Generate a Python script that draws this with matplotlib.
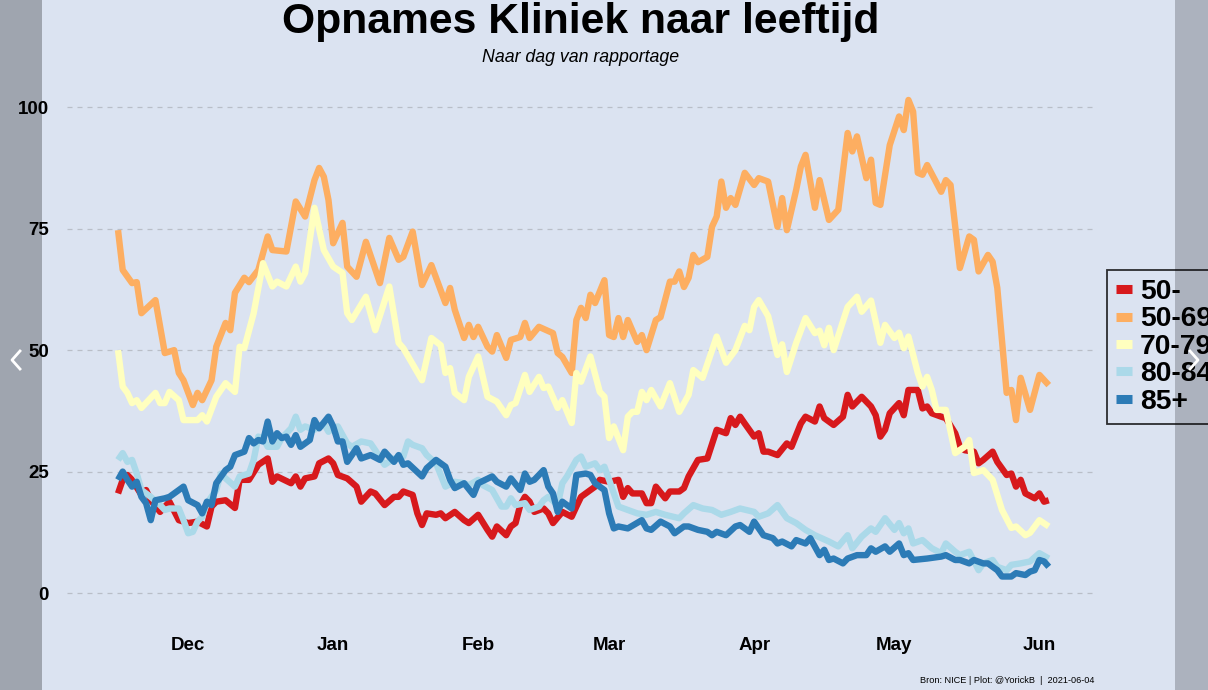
import pandas as pd
import matplotlib
matplotlib.use("Agg")
import matplotlib.pyplot as plt
import matplotlib.dates as mdates
from matplotlib.lines import Line2D
from matplotlib.patches import Rectangle

plt.rcParams['font.family'] = ['Liberation Sans', 'DejaVu Sans']

# day 0 = 2020-11-16, values = opnames per dag
start = pd.Timestamp('2020-11-16')

age_50min = [(0,20.5),(1,23.3),(2,24.3),(3,23.3),(5,20.2),(6,21.2),(7,19.1),(9,16.7),(11,18.8),(13,15),(15,14.4),(17,14.7),(19,13.7),(20,17.8),(21,18.8),(23,19.1),(25,17.5),(26,23.3),(28,23.3),(30,26.4),(32,27.7),(33,22.9),(34,24),(37,22.6),(38,24),(39,21.9),(40,23.6),(42,24),(43,26.7),(45,27.7),(46,26.7),(47,24.3),(49,23.6),(51,21.9),(52,18.8),(54,20.9),(55,20.5),(57,18.1),(59,19.8),(60,19.8),(61,20.9),(63,20.2),(64,16.4),(65,14),(66,16.4),(68,16.1),(69,16.4),(70,15.4),(72,16.7),(74,15),(75,14.4),(77,16.1),(79,13),(80,11.6),(81,13.7),(83,11.9),(84,13.7),(85,14.4),(86,18.1),(87,19.8),(88,18.8),(89,16.7),(91,17.4),(92,16.4),(93,14.4),(95,16.7),(97,15.7),(98,17.8),(99,19.8),(101,21.2),(102,21.9),(103,23.3),(105,22.9),(107,23.3),(108,19.8),(109,21.6),(110,20.5),(112,20.5),(113,18.5),(114,18.5),(115,21.9),(117,19.5),(118,20.9),(120,20.9),(121,21.6),(122,24),(124,27.4),(126,27.7),(128,33.6),(130,32.9),(131,36),(132,34.6),(133,36.3),(134,34.9),(136,32.2),(137,32.9),(138,29.1),(139,29.1),(141,28.4),(143,30.8),(144,30.1),(146,34.9),(147,36.3),(149,35.3),(150,38.4),(151,36),(153,34.6),(155,36.3),(156,40.8),(157,38.4),(159,40.4),(161,38.4),(162,36.6),(163,32.2),(164,33.6),(165,37),(167,39.1),(168,36.6),(169,41.8),(171,41.8),(172,38),(173,38.4),(174,37),(176,36.3),(177,36),(179,32.9),(180,30.1),(181,29.4),(183,29.1),(184,26.7),(185,27.4),(187,29.1),(188,27),(190,24.3),(191,24.6),(192,21.9),(193,23.3),(194,20.5),(196,19.5),(197,20.5),(198,18.8),(199,19.1)]

age_5069 = [(0,74.7),(1,66.5),(3,63.8),(4,64),(5,57.6),(8,60.3),(10,49.4),(12,50),(13,45.3),(14,43.8),(16,38.7),(17,41.2),(18,39.7),(20,43.8),(21,50.7),(23,55.6),(24,54.1),(25,61.8),(27,64.9),(28,64),(30,66.5),(32,73.4),(33,70.6),(36,70.3),(38,80.6),(40,77.5),(42,85),(43,87.5),(44,85.7),(45,80.9),(46,72),(48,76.2),(49,67.2),(51,65.1),(53,72.3),(56,63.8),(58,73.1),(60,68.6),(61,69.2),(63,74.4),(65,63.4),(67,67.5),(70,59.7),(71,62.8),(72,58.3),(74,52.5),(75,55.2),(76,52.7),(77,54.8),(79,50.7),(80,49.7),(81,53.1),(83,48.4),(84,52.1),(86,52.7),(87,55.6),(88,52.5),(90,54.8),(93,53.5),(94,49.4),(95,48.6),(97,45.3),(98,56.2),(99,58.7),(100,56.6),(101,61.4),(102,59.7),(104,64.4),(105,53.1),(106,52.7),(107,56.6),(108,52.7),(109,56.2),(111,51.7),(112,53.1),(113,50),(115,56.2),(116,56.8),(118,64.1),(119,64.1),(120,66.2),(121,63),(122,64.9),(123,69.6),(124,68.1),(126,69.2),(127,75.4),(128,77.5),(129,84.7),(130,79.3),(131,81.3),(132,79.9),(134,86.5),(136,84),(137,85.4),(139,84.7),(141,75.4),(142,81.3),(143,74.7),(145,83),(146,87.8),(147,90.2),(149,79.3),(150,85),(152,76.8),(154,78.9),(156,94.7),(157,90.9),(158,94),(160,85.4),(161,89.2),(162,80.3),(163,79.9),(165,92.2),(167,98.1),(168,95.3),(169,101.5),(170,99.1),(171,86.5),(172,86.1),(173,88.1),(176,82.6),(177,85),(178,84),(180,66.9),(182,73.4),(183,72.7),(184,66.2),(186,69.6),(187,68.2),(188,62.8),(190,41.2),(191,41.8),(192,35.6),(193,44.3),(195,37.7),(197,44.9),(199,42.8)]

age_7079 = [(0,50),(1,42.5),(2,41.2),(3,39.1),(4,39.7),(5,38.1),(8,41.2),(9,39.1),(10,39.1),(11,41.4),(13,39.7),(14,35.6),(17,35.6),(18,36.6),(19,35.3),(21,40.4),(23,43.2),(25,41.4),(26,50.7),(27,50.4),(29,57.6),(31,67.9),(33,63.1),(34,64.1),(36,63.1),(38,67.2),(39,64.1),(40,65.9),(41,72.7),(42,79.3),(44,70.6),(46,67.2),(48,65.9),(49,57.6),(50,56.2),(53,61),(55,54.1),(58,63.1),(60,51.5),(61,50.4),(65,43.8),(67,52.5),(69,51),(70,45.3),(71,46.3),(72,41.2),(74,39.7),(75,44.5),(77,48.7),(79,40.4),(81,39.4),(83,36.6),(84,38.7),(85,39.1),(87,44.9),(88,41.4),(90,44.5),(91,42.2),(92,42.5),(94,38.1),(95,39.7),(97,35),(98,45.3),(99,43.5),(101,48.7),(103,41.4),(104,40.4),(105,31.9),(106,34.3),(108,29.4),(109,36.3),(110,37.3),(111,37.3),(112,41.4),(113,39.7),(114,41.8),(116,38.4),(118,43.2),(120,37.3),(122,40.8),(123,45.9),(125,44.3),(128,52.8),(130,47.4),(132,50),(134,55),(135,54.1),(136,58.9),(137,60.3),(139,57),(141,49),(142,51.2),(143,45.5),(145,51.5),(147,56.6),(149,53.5),(150,54),(151,51),(152,54.6),(153,50),(156,58.9),(158,61),(159,57.9),(161,60.2),(163,51.5),(164,55.2),(166,52.5),(167,53.6),(168,50.4),(169,52.8),(171,45.3),(172,42.5),(173,44.5),(174,41.8),(175,37.7),(177,37.7),(179,28.8),(181,30.1),(182,31.5),(183,24.7),(185,25.3),(187,23.3),(189,17.1),(191,13.4),(192,13.7),(194,11.9),(195,12.4),(197,15),(199,13.7)]

age_8084 = [(0,27.4),(1,28.8),(2,27),(3,27.4),(4,24.6),(5,21.2),(7,19.8),(9,18.1),(10,17.1),(11,17.4),(13,17.4),(14,15),(15,12.3),(16,12.6),(17,14.7),(18,15.7),(19,18.5),(21,21.2),(22,24.6),(23,23.6),(25,21.9),(26,24),(28,24.6),(29,27.4),(30,32.2),(31,31.9),(32,30.1),(34,30.1),(35,31.9),(37,33.9),(38,36.3),(39,33.6),(40,34.3),(42,33.6),(44,34.9),(45,33.2),(46,33.9),(47,34.3),(49,30.8),(50,30.1),(52,31.2),(54,30.8),(55,29.4),(57,26.4),(59,27.7),(61,28.1),(62,31.2),(63,30.5),(65,29.8),(66,28.4),(68,26.7),(69,24.3),(70,21.9),(72,22.9),(74,22.6),(75,22.2),(77,23.3),(78,22.2),(80,21.2),(82,17.8),(83,17.8),(84,19.5),(85,18.1),(87,18.5),(88,17.1),(90,17.8),(91,19.1),(92,19.8),(94,18.1),(95,22.6),(96,24),(98,27.4),(99,28.1),(100,26),(102,26.7),(103,25.3),(104,26),(105,23.3),(107,17.8),(109,17.1),(111,16.4),(113,16.1),(115,16.7),(117,16.1),(120,15.4),(121,16.4),(123,18.1),(125,17.4),(127,17.1),(129,16.1),(131,16.7),(133,17.4),(136,16.7),(137,15.7),(139,16.4),(141,18.1),(143,15.4),(145,14.4),(147,13),(149,11.9),(152,10.6),(154,9.6),(156,11.9),(157,9.2),(159,11.6),(161,13.3),(162,12.6),(164,15.4),(166,13),(167,14.4),(168,12.3),(169,13.3),(170,10.2),(172,10.9),(174,9.2),(176,8.2),(177,10.2),(179,8.5),(180,7.8),(182,8.5),(184,4.7),(185,6.1),(187,6.8),(188,5.4),(190,4.7),(191,5.8),(193,6.1),(195,6.5),(197,8.2),(199,7.1)]

age_85plus = [(0,23.3),(1,25),(2,23.3),(3,21.9),(4,22.9),(5,19.8),(6,18.5),(7,15),(8,19.1),(10,19.5),(11,19.8),(14,21.9),(15,19.1),(17,18.1),(18,16.4),(19,18.8),(20,18.1),(21,22.6),(23,25.3),(24,26),(25,28.4),(27,29.1),(28,31.9),(29,30.8),(30,31.5),(31,31.2),(32,35.3),(33,31.2),(34,32.9),(35,31.9),(36,32.2),(37,30.5),(38,32.5),(39,30.1),(41,31.5),(42,35.6),(43,33.9),(45,36.3),(46,34.3),(47,31.2),(48,31.2),(49,27),(51,29.8),(52,27.7),(54,28.4),(56,27.4),(57,29.1),(59,27),(60,28.4),(61,26.4),(62,26.7),(65,24),(66,25.7),(68,27.4),(70,26),(71,23.3),(72,21.6),(74,22.6),(76,20.2),(77,22.6),(80,24),(81,22.9),(83,21.9),(84,23.6),(86,21.2),(87,24.6),(88,22.9),(89,23.3),(91,25.3),(92,21.9),(93,20.5),(94,16.7),(95,18.8),(97,17.4),(98,24.3),(100,24.6),(101,24.3),(102,22.6),(104,21.2),(105,16.4),(106,13.3),(107,13.7),(109,13.3),(112,15),(113,13.3),(114,13),(116,14.7),(118,13.7),(119,12.3),(121,13.7),(122,13.7),(124,13),(126,12.6),(127,11.9),(128,12.6),(130,11.9),(132,13.7),(133,14),(135,12.6),(136,14.7),(138,11.9),(140,11.3),(141,10.2),(142,10.6),(144,9.6),(145,10.9),(147,10.2),(148,11.3),(150,7.8),(151,8.9),(152,6.8),(153,7.1),(155,6.1),(156,7.1),(158,7.8),(160,7.8),(161,9.2),(162,8.5),(164,9.6),(165,8.5),(167,10.2),(168,7.8),(169,8.2),(170,6.8),(173,7.1),(176,7.5),(177,7.8),(179,6.8),(180,6.8),(182,6.1),(183,6.8),(185,6.1),(186,6.1),(188,4.7),(189,3.4),(191,3.4),(192,4.1),(194,3.7),(195,4.4),(196,4.7),(197,6.8),(198,6.5),(199,5.4)]

labels = ['50-', '50-69', '70-79', '80-84', '85+']
colors = ['#d7191c', '#fdae61', '#ffffbf', '#abd9e9', '#2c7bb6']
series = [age_50min, age_5069, age_7079, age_8084, age_85plus]

bg = '#dbe3f1'
fig = plt.figure(figsize=(12.08, 6.9), dpi=100, facecolor=bg)
ax = fig.add_axes([0.0555, 0.1014, 0.851, 0.7826])
ax.set_facecolor(bg)

for data, lab, col in zip(series, labels, colors):
    x = [start + pd.Timedelta(days=d) for d, v in data]
    y = [v for d, v in data]
    ax.plot(x, y, color=col, lw=4.6, label=lab, solid_joinstyle='round', solid_capstyle='butt')

ax.set_xlim(start - pd.Timedelta(days=10.9), start + pd.Timedelta(days=208.9))
ax.set_ylim(-5.56, 105.6)
ax.set_yticks([0, 25, 50, 75, 100])
ax.xaxis.set_major_locator(mdates.MonthLocator())
ax.xaxis.set_major_formatter(mdates.DateFormatter('%b'))
ax.grid(axis='y', color='#b9bec8', linestyle=(0, (4, 4)), linewidth=0.9)
ax.set_axisbelow(True)
for s in ax.spines.values():
    s.set_visible(False)
ax.tick_params(axis='both', length=0, labelsize=13.5)
ax.tick_params(axis='y', pad=13)
ax.tick_params(axis='x', pad=12)
for t in ax.get_xticklabels() + ax.get_yticklabels():
    t.set_fontweight('bold')

fig.text(0.481, 0.968, 'Opnames Kliniek naar leeftijd', ha='center', va='center',
         fontsize=30.7, fontweight='bold')
fig.text(0.481, 0.916, 'Naar dag van rapportage', ha='center', va='center',
         fontsize=12.8, style='italic')
fig.text(0.906, 0.014, 'Bron: NICE | Plot: @YorickB  |  2021-06-04', ha='right', va='center',
         fontsize=6.6)

# legend runs off under the right screenshot bar, as in the original
leg = fig.legend(loc='upper left', bbox_to_anchor=(1107 / 1208, 1 - 270 / 690), borderaxespad=0,
                 frameon=True, fancybox=False, prop={'weight': 'bold', 'size': 20.3},
                 handlelength=0.55, handletextpad=0.3, labelspacing=0.05, borderpad=0.32)
leg.get_frame().set_edgecolor('black')
leg.get_frame().set_linewidth(1.3)
leg.get_frame().set_facecolor(bg)
for h in leg.legend_handles:
    h.set_linewidth(6.5)

# screenshot side bars and carousel arrows
fig.add_artist(Rectangle((0, 0), 42 / 1208, 1, transform=fig.transFigure,
                         facecolor='black', alpha=0.27, edgecolor='none', zorder=10))
fig.add_artist(Rectangle((1175 / 1208, 0), 33 / 1208, 1, transform=fig.transFigure,
                         facecolor='black', alpha=0.21, edgecolor='none', zorder=10))
fig.add_artist(Line2D([20 / 1208, 12 / 1208, 20 / 1208], [1 - 351 / 690, 1 - 360 / 690, 1 - 369 / 690],
                      transform=fig.transFigure, color='white', lw=2, zorder=11))
fig.add_artist(Line2D([1190 / 1208, 1198 / 1208, 1190 / 1208], [1 - 351 / 690, 1 - 360 / 690, 1 - 369 / 690],
                      transform=fig.transFigure, color='white', lw=2, zorder=11))

fig.savefig('out.png', dpi=100, facecolor=bg)
